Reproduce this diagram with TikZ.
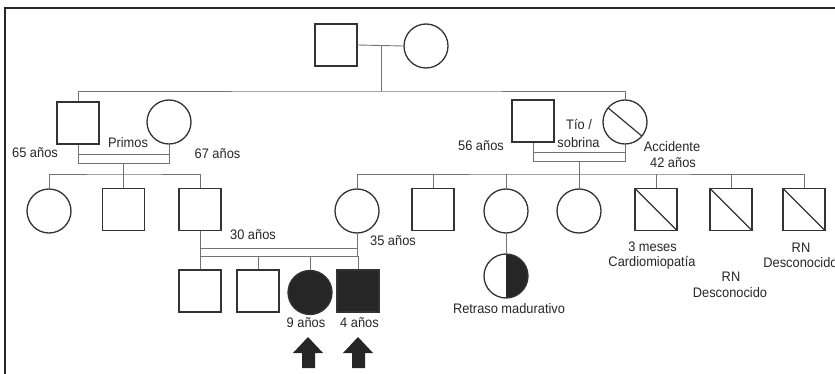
\documentclass[tikz,border=0pt]{standalone}
\usepackage{fontspec}
\setmainfont[FakeStretch=0.93]{Liberation Sans}
\usetikzlibrary{calc}
\begin{document}
\begin{tikzpicture}[x=1pt,y=-1pt,
  sq/.style={draw=black!80, line width=1.3pt, rectangle, minimum size=42pt, inner sep=0pt, fill=white},
  ci/.style={draw=black!80, line width=1.3pt, circle, minimum size=44pt, inner sep=0pt, fill=white},
  dead/.style={path picture={\draw[black!80, line width=1.2pt] (path picture bounding box.north west) -- (path picture bounding box.south east);}},
  deadc/.style={path picture={\draw[black!80, line width=1.2pt] ($(path picture bounding box.center)+(-16.9,-14.1)$) -- ($(path picture bounding box.center)+(16.9,14.1)$);}},
  half/.style={path picture={\fill[black!85] (path picture bounding box.north) rectangle (path picture bounding box.south east);}},
  aff/.style={fill=black!85},
  ln/.style={draw=black!55, line width=0.9pt},
  lbl/.style={font=\fontsize{13.8}{15}\selectfont, text=black!85, inner sep=0pt, anchor=center},
  probarrow/.style={fill=black!85, draw=none},
]
\useasboundingbox (0,0) rectangle (835,374);
\draw[line width=1.5pt, black!85] (5,374) -- (5,8) -- (835,8);

% generation I
\node[sq] (gf) at (336,45) {};
\node[ci] (gm) at (426,46) {};
\draw[ln] (gf.east) -- (gm.west);
\coordinate (gI) at (381,46);
\coordinate (sI) at (381,91);
\draw[ln] (gI) -- (sI);

% generation II
\node[sq] (A) at (78,123) {};
\node[ci] (B) at (169,122) {};
\node[sq] (D) at (533,121) {};
\node[ci, deadc] (E) at (625,122) {};
\draw[ln] (A.north) |- (sI) -| (E.north);

% consanguineous couple left
\coordinate (ab1) at (78,154);
\coordinate (ab2) at (78,163);
\coordinate (ba1) at (169,154);
\coordinate (ba2) at (169,163);
\draw[ln] (A.south) -- (ab2) -- (ba2) -- (B.south);
\draw[ln] (ab1) -- (ba1);
\coordinate (abd) at (123.5,163);
\coordinate (abs) at (123.5,174);
\draw[ln] (abd) -- (abs);

% consanguineous couple right
\coordinate (de1) at (533,152);
\coordinate (de2) at (533,161);
\coordinate (ed1) at (625,152);
\coordinate (ed2) at (625,161);
\draw[ln] (D.south) -- (de2) -- (ed2) -- (E.south);
\draw[ln] (de1) -- (ed1);
\coordinate (ded) at (579,161);
\coordinate (des) at (579,174);
\draw[ln] (ded) -- (des);

% generation III left
\node[ci] (C1) at (49,211) {};
\node[sq] (C2) at (123.5,209.5) {};
\node[sq] (C3) at (200,209.5) {};
\draw[ln] (C1.north) |- (abs) -| (C3.north);
\draw[ln] (abs) -- (C2.north);

% generation III right
\node[ci] (F) at (357,211) {};
\node[sq] (G) at (433,209.5) {};
\node[ci] (H) at (506,211) {};
\node[ci] (I) at (579,211) {};
\node[sq, dead] (J) at (656,209.5) {};
\node[sq, dead] (K) at (731,209.5) {};
\node[sq, dead] (L) at (804,209.5) {};
\draw[ln] (F.north) |- (des) -| (L.north);
\draw[ln] (G.north) -- (G.north |- des);
\draw[ln] (H.north) -- (H.north |- des);
\draw[ln] (I.north) -- (I.north |- des);
\draw[ln] (J.north) -- (J.north |- des);
\draw[ln] (K.north) -- (K.north |- des);

% child of H
\node[ci, half] (Q) at (506,276) {};
\draw[ln] (H.south) -- (Q.north);

% generation IV
\coordinate (cf1) at (200,248);
\coordinate (cf2) at (200,256);
\coordinate (fc1) at (357,248);
\coordinate (fc2) at (357,256);
\draw[ln] (C3.south) -- (cf2) -- (fc2) -- (F.south);
\draw[ln] (cf1) -- (fc1);
\node[sq] (M) at (200,291) {};
\node[sq] (N) at (258,291) {};
\node[ci, aff] (O) at (310,292.5) {};
\node[sq, aff] (P) at (358,291) {};
\draw[ln] (M.north) -- (M.north |- cf2);
\draw[ln] (N.north) -- (N.north |- cf2);
\draw[ln] (O.north) -- (O.north |- cf2);
\draw[ln] (P.north) -- (P.north |- cf2);

% proband arrows
\fill[probarrow] (308,337) -- (323,353) -- (315,353) -- (315,368) -- (302,368) -- (302,353) -- (293,353) -- cycle;
\fill[probarrow] (358,337) -- (373,353) -- (365,353) -- (365,368) -- (352,368) -- (352,353) -- (343,353) -- cycle;

% labels
\node[lbl] (t1) at (128,143) {Primos};
\node[lbl] (t2) at (35,153) {65 años};
\node[lbl] (t3) at (217.5,154) {67 años};
\node[lbl] (t4) at (481,146) {56 años};
\node[lbl] (t5) at (579,124) {Tío /};
\node[lbl] (t6) at (578.5,143) {sobrina};
\node[lbl] (t7) at (672,147) {Accidente};
\node[lbl] (t8) at (673,163) {42 años};
\node[lbl] (t9) at (253,235) {30 años};
\node[lbl] (t10) at (393,241) {35 años};
\node[lbl] (t11) at (306,323) {9 años};
\node[lbl] (t12) at (359.5,323) {4 años};
\node[lbl] (t13) at (509,309) {Retraso madurativo};
\node[lbl] (t14) at (652.5,247) {3 meses};
\node[lbl] (t15) at (652,263) {Cardiomiopatía};
\node[lbl] (t16) at (731,277) {RN};
\node[lbl] (t17) at (730,293) {Desconocido};
\node[lbl] (t18) at (801,248) {RN};
\node[lbl] (t19) at (800.5,263) {Desconocido};
\end{tikzpicture}
\end{document}
